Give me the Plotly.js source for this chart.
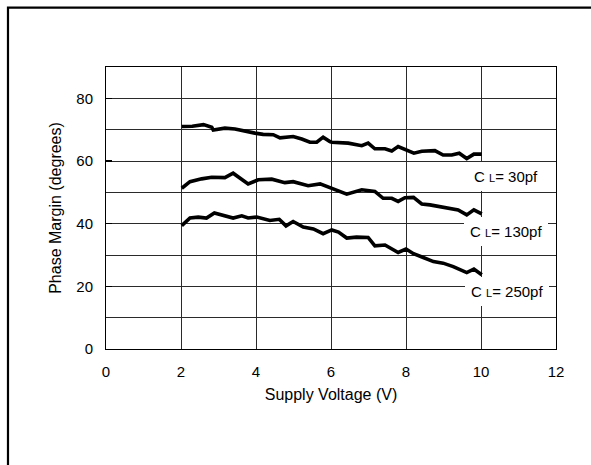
<!DOCTYPE html>
<html>
<head>
<meta charset="utf-8">
<script src="https://cdn.plot.ly/plotly-3.0.1.min.js"></script>
<style>html,body{margin:0;padding:0;background:#fff;}#chart{width:591px;height:465px;}</style>
</head>
<body>
<div id="chart"></div>
<script>
// Supply voltage (V) and phase margin (degrees) for each load capacitance
const vCL30 = [2.02, 2.3, 2.6, 2.82, 2.86, 3.17, 3.44, 3.75, 3.97, 4.19, 4.46, 4.64, 4.99, 5.22, 5.44, 5.62, 5.79, 5.97, 6.02, 6.46, 6.82, 6.99, 7.17, 7.44, 7.62, 7.79, 7.97, 8.02, 8.21, 8.42, 8.77, 8.99, 9.22, 9.42, 9.62, 9.81, 10.02];
const pmCL30 = [71.0, 71.1, 71.6, 70.8, 69.9, 70.5, 70.2, 69.3, 68.9, 68.5, 68.4, 67.4, 67.8, 67.0, 66.0, 66.0, 67.6, 66.2, 66.0, 65.7, 64.9, 65.7, 63.9, 63.9, 63.2, 64.6, 63.8, 63.5, 62.5, 63.1, 63.3, 61.9, 61.9, 62.5, 60.8, 62.2, 62.2];

const vCL130 = [2.02, 2.24, 2.55, 2.82, 3.17, 3.39, 3.79, 4.06, 4.42, 4.77, 4.99, 5.39, 5.71, 5.97, 6.11, 6.42, 6.82, 7.17, 7.39, 7.62, 7.79, 7.97, 8.2, 8.42, 8.64, 8.99, 9.39, 9.62, 9.81, 10.02];
const pmCL130 = [51.3, 53.4, 54.3, 54.8, 54.7, 56.1, 52.7, 54.0, 54.2, 53.1, 53.4, 52.1, 52.7, 51.5, 51.0, 49.4, 50.8, 50.3, 48.1, 48.1, 47.1, 48.3, 48.4, 46.3, 46.0, 45.3, 44.4, 42.8, 44.4, 43.1];

const vCL250 = [2.02, 2.24, 2.46, 2.68, 2.89, 3.17, 3.39, 3.62, 3.79, 4.02, 4.37, 4.62, 4.8, 4.99, 5.26, 5.53, 5.79, 6.02, 6.2, 6.42, 6.68, 6.99, 7.17, 7.44, 7.79, 8.0, 8.2, 8.46, 8.73, 8.99, 9.26, 9.62, 9.81, 10.02];
const pmCL250 = [39.4, 41.8, 42.1, 41.8, 43.4, 42.5, 41.8, 42.5, 41.8, 42.1, 41.0, 41.4, 39.3, 40.7, 38.9, 38.3, 36.8, 38.0, 37.3, 35.4, 35.7, 35.6, 32.9, 33.2, 30.8, 31.9, 30.4, 29.2, 27.9, 27.4, 26.3, 24.4, 25.5, 23.7];

const seriesLabels = ['30pf', '130pf', '250pf'];
const labelX = [10.67, 10.67, 10.69];
const labelY = [55, 37.5, 18.4];
const xTicks = [0, 2, 4, 6, 8, 10, 12];
const yTicks = [0, 20, 40, 60, 80];

const FONT = 'Liberation Sans, Arial, sans-serif';
const lineStyle = {color: '#000', width: 3.6, shape: 'linear'};

const traces = [
  {x: vCL30, y: pmCL30, name: 'CL=30pf', mode: 'lines', line: lineStyle},
  {x: vCL130, y: pmCL130, name: 'CL=130pf', mode: 'lines', line: lineStyle},
  {x: vCL250, y: pmCL250, name: 'CL=250pf', mode: 'lines', line: lineStyle}
];

const annotations = seriesLabels.map((s, i) => ({
  x: labelX[i], y: labelY[i], xref: 'x', yref: 'y',
  text: 'C <span style="font-size:11px">L</span>= ' + s,
  showarrow: false, bgcolor: '#fff', borderpad: 6, borderwidth: 0,
  font: {family: FONT, size: 15, color: '#000'},
  xanchor: 'center', yanchor: 'middle'
}));

const layout = {
  width: 591, height: 465,
  margin: {l: 106, r: 35, t: 67, b: 116, pad: 0},
  paper_bgcolor: '#fff', plot_bgcolor: '#fff',
  showlegend: false,
  font: {family: FONT, color: '#000'},
  xaxis: {
    range: [0, 12], tickvals: xTicks, ticktext: xTicks.map(String),
    showgrid: true, gridcolor: '#2a2a2a', gridwidth: 1,
    zeroline: false, showline: true, linecolor: '#000', linewidth: 1, mirror: true,
    ticks: '', tickfont: {family: FONT, size: 15, color: '#000'},
    ticklabelstandoff: 9,
    title: {text: 'Supply Voltage (V)', font: {family: FONT, size: 16, color: '#000'}, standoff: 9},
    fixedrange: true
  },
  yaxis: {
    range: [0, 90], tickvals: yTicks, ticktext: yTicks.map(String),
    showgrid: true, gridcolor: '#2a2a2a', gridwidth: 1,
    minor: {dtick: 10, tick0: 0, showgrid: true, gridcolor: '#2a2a2a', gridwidth: 1, ticks: ''},
    zeroline: false, showline: true, linecolor: '#000', linewidth: 1, mirror: true,
    ticks: 'inside', ticklen: 6, tickcolor: '#000', tickwidth: 1.2,
    tickfont: {family: FONT, size: 15, color: '#000'},
    ticklabelstandoff: 9,
    title: {text: 'Phase Margin (degrees)', font: {family: FONT, size: 16, color: '#000'}, standoff: 10},
    fixedrange: true
  },
  annotations: annotations,
  shapes: [{
    type: 'path', xref: 'paper', yref: 'paper',
    path: 'M -0.2178 -0.45 L -0.2178 1.2103 L 1.1 1.2103',
    line: {color: '#000', width: 2.2}
  }]
};

Plotly.newPlot('chart', traces, layout, {staticPlot: true, displayModeBar: false});
</script>
</body>
</html>
